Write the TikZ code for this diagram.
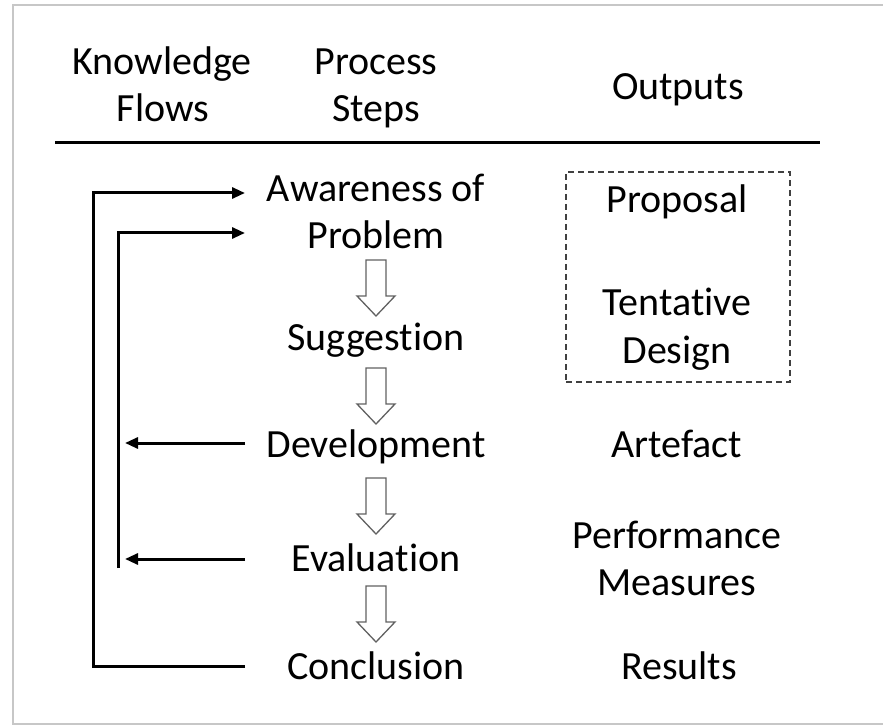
\documentclass[tikz,border=0pt]{standalone}
\usepackage{fontspec}
\setmainfont{Carlito}[Ligatures=NoCommon]
\usetikzlibrary{arrows.meta}
\begin{document}
\begin{tikzpicture}[x=1pt,y=-1pt,
  lbl/.style={anchor=base, inner sep=0pt, font=\fontsize{40}{47}\selectfont, text=black},
  flow/.style={line width=3pt, line join=miter, line cap=butt},
  tip/.style={-{Triangle[length=13pt,width=11pt]}},
  blk/.style={draw=black!62, line width=1.3pt, fill=white, line join=miter},
  blockarrow/.pic={\draw[blk] (-10,0) -- (-10,36) -- (-19,36) -- (0,56) -- (19,36) -- (10,36) -- (10,0) -- cycle;},
  dbox/.style={draw=black!75, dash pattern=on 6pt off 4pt, line width=1.5pt, minimum width=224pt, minimum height=210pt, inner sep=0pt}
]
\useasboundingbox (0,0) rectangle (883,727);
% frame
\draw[black!22, line width=2.5pt] (883,5) -- (13,5) -- (13,724) -- (883,724);
% header rule
\draw[line width=3pt] (55,143) -- (820,143);

% headers
\node[lbl] (kn1) at (162,75) {Knowledge};
\node[lbl] (kn2) at (163,122) {Flows};
\node[lbl] (ps1) at (376,75) {Process};
\node[lbl] (ps2) at (376,122) {Steps};
\node[lbl] (out) at (678,100) {Outputs};

% process steps
\node[lbl] (aw1) at (376,202) {Awareness of};
\node[lbl] (aw2) at (376,249) {Problem};
\node[lbl] (sug) at (376,350) {Suggestion};
\node[lbl] (dev) at (376,457) {Development};
\node[lbl] (eva) at (376,571) {Evaluation};
\node[lbl] (con) at (376,679) {Conclusion};

% outputs
\node[dbox] (box) at (678,277) {};
\node[lbl] (pro) at (677,213) {Proposal};
\node[lbl] (ten1) at (677,316) {Tentative};
\node[lbl] (ten2) at (677,363) {Design};
\node[lbl] (art) at (677,457) {Artefact};
\node[lbl] (pm1) at (677,548) {Performance};
\node[lbl] (pm2) at (677,595) {Measures};
\node[lbl] (res) at (679,679) {Results};

% block arrows
\pic (ba1) at (376,260) {blockarrow};
\pic (ba2) at (376,368) {blockarrow};
\pic (ba3) at (376,478) {blockarrow};
\pic (ba4) at (376,586) {blockarrow};

% knowledge flows
\coordinate (conIn) at (245,666);
\coordinate (oc) at (93,193);
\coordinate (awIn1) at (245,193);
\coordinate (ib) at (118,568);
\coordinate (ic) at (118,233);
\coordinate (awIn2) at (245,233);
\coordinate (devOut) at (245,443);
\coordinate (devTip) at (125,443);
\coordinate (evaOut) at (245,559);
\coordinate (evaTip) at (125,559);

\draw[flow,tip] (conIn) -| (oc) -- (awIn1);
\draw[flow,tip] (ib) -- (ic) -- (awIn2);
\draw[flow,tip] (devOut) -- (devTip);
\draw[flow,tip] (evaOut) -- (evaTip);
\end{tikzpicture}
\end{document}
